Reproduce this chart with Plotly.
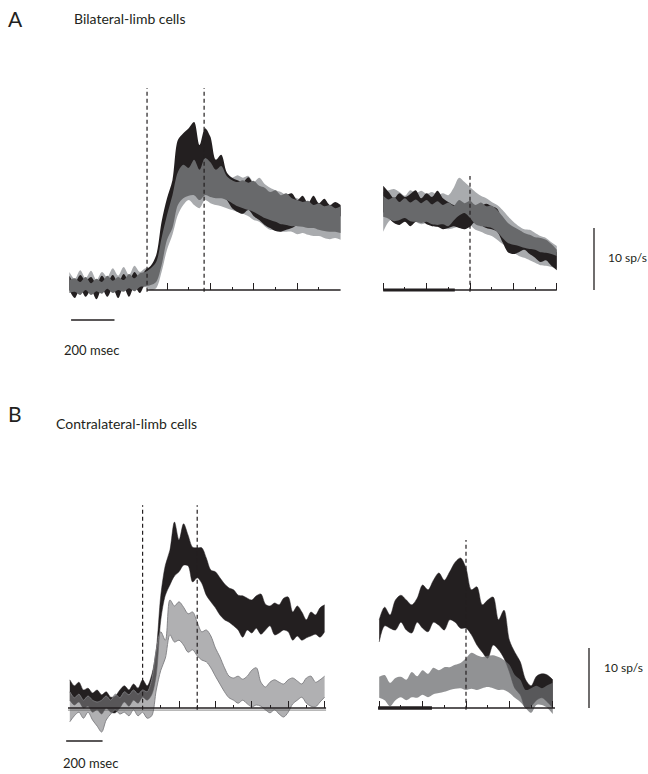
import plotly.graph_objects as go

W, H = 648, 774

# ---------------- DATA (firing rate, sp/s; time, ms) ----------------
# Panel A, left (aligned on first event), three conditions
A_L_T = list(range(-450, 801, 25))
A_L_LG_HI = [12.9,11.8,13.2,11.9,13.1,11.6,12.9,12.1,13.5,12.3,13.7,12.4,13.9,12.9,13.5,13.5,14.0,17.3,21.0,23.7,
             26.9,28.5,28.5,29.7,28.5,29.7,29.4,28.5,29.0,28.4,28.1,28.5,28.1,28.4,27.4,28.1,27.1,26.5,26.1,25.8,
             25.3,25.2,24.8,24.5,24.2,24.5,23.9,24.0,23.5,23.7,23.2]
A_L_LG_LO = [10.0,9.7,10.5,9.5,10.3,9.5,10.3,9.7,10.6,9.8,10.8,9.8,11.0,10.2,10.5,10.0,10.3,12.9,16.5,18.9,
             22.1,23.7,24.5,23.7,23.2,24.5,24.0,23.7,23.5,23.2,22.9,22.6,22.3,21.9,21.3,21.0,20.3,19.7,19.7,19.4,
             19.4,19.4,19.0,19.2,18.9,18.7,18.7,18.4,18.2,18.4,18.1]
A_L_BK_HI = [12.3,11.1,12.4,11.5,12.1,11.0,12.3,11.3,12.4,11.1,12.6,11.5,12.9,11.9,13.2,13.9,15.6,21.0,24.8,27.7,
             34.2,35.3,36.1,37.1,33.4,36.1,34.7,31.0,31.8,29.0,28.1,27.7,27.4,28.2,26.9,25.8,25.0,24.5,24.0,24.8,
             25.3,25.6,24.5,25.2,24.0,25.2,24.0,24.7,23.7,24.2,23.7]
A_L_BK_LO = [10.0,8.7,10.2,8.9,10.0,8.5,10.2,8.9,10.3,8.7,10.5,8.9,10.6,9.5,11.0,11.3,11.9,16.5,21.0,23.2,
             26.9,27.4,28.1,28.1,27.7,27.4,26.9,26.1,25.3,24.5,23.2,22.6,22.3,22.9,21.9,21.3,20.5,20.0,19.5,19.4,
             19.7,20.0,20.5,21.0,20.6,21.0,21.3,21.6,21.3,21.6,21.9]
A_L_DG_HI = [11.6,11.9,11.3,12.1,11.1,11.8,11.3,12.3,11.5,12.1,11.6,12.6,11.9,12.7,12.9,13.5,14.5,18.4,22.1,25.3,
             29.0,30.2,29.7,31.0,29.4,31.3,30.6,29.4,30.0,28.4,27.7,27.4,27.7,27.3,27.6,26.8,26.5,25.8,26.1,25.3,
             25.6,24.8,24.5,24.2,24.4,23.7,24.0,23.5,23.7,23.2,23.5]
A_L_DG_LO = [9.5,9.7,9.2,10.0,9.2,9.8,9.4,10.2,9.5,10.0,9.7,10.3,9.8,10.5,10.6,10.8,11.3,14.0,18.1,20.0,
             23.7,24.8,25.2,25.3,24.5,25.3,25.0,24.8,24.8,24.5,24.0,23.5,23.2,22.9,22.6,22.1,21.6,21.3,21.0,20.6,
             20.5,20.3,20.3,20.2,20.0,20.0,19.7,19.5,19.4,19.4,19.2]

# Panel A, right (aligned on second event)
A_R_T = list(range(-400, 401, 25))
A_R_LG_HI = [25.8,26.1,26.3,25.8,25.2,26.1,25.6,26.0,25.5,25.8,25.3,25.6,25.3,26.5,28.1,27.4,26.6,25.8,25.2,24.8,
             24.2,23.7,22.9,21.9,21.0,20.3,19.8,19.7,19.2,18.7,18.4,17.7,17.1]
A_R_LG_LO = [19.4,21.0,21.6,21.8,21.5,21.3,21.0,20.6,20.8,20.5,20.3,20.0,19.8,20.0,20.3,20.6,20.5,19.7,19.4,19.0,
             18.7,18.1,17.4,16.8,16.1,15.5,15.2,14.8,14.4,14.0,13.9,13.7,13.5]
A_R_BK_HI = [26.8,25.8,24.8,25.6,25.0,25.5,26.1,24.8,25.6,25.0,26.0,24.8,24.2,23.7,23.5,23.4,23.7,23.2,23.5,23.9,
             23.5,23.1,21.0,19.4,18.1,18.4,17.7,18.1,17.4,17.1,17.6,16.8,16.1]
A_R_BK_LO = [22.6,21.6,20.8,20.5,21.0,20.3,21.0,21.3,20.6,20.3,20.2,19.8,20.0,20.3,20.0,19.8,20.2,21.0,20.5,20.0,
             19.8,19.4,17.7,16.1,15.8,16.1,16.5,15.8,15.2,14.5,14.8,13.9,13.2]
A_R_DG_HI = [25.2,24.6,25.0,24.2,24.8,24.1,24.6,24.0,24.5,23.8,24.3,23.7,24.1,23.6,24.5,24.0,24.4,23.7,24.1,23.5,
             23.6,22.9,21.9,20.8,20.2,19.7,19.2,18.9,18.5,18.4,18.1,17.4,16.5]
A_R_DG_LO = [21.8,21.5,21.1,21.3,21.6,21.1,21.0,20.8,21.0,20.6,20.5,20.6,20.3,21.2,22.0,22.4,21.6,20.6,20.3,20.2,
             20.0,19.4,18.4,17.6,17.3,17.1,16.8,16.6,16.5,16.1,16.0,15.8,15.5]

# Panel B, left, two conditions
B_L_T = list(range(-600, 801, 25))
B_L_BK_HI = [14.7,13.7,14.3,13.0,13.3,12.5,13.0,12.2,12.7,11.8,12.0,13.0,13.7,13.0,14.0,13.3,14.7,13.7,15.5,19.7,
             28.8,33.8,36.3,41.0,38.0,40.7,38.8,36.8,36.7,36.7,35.0,33.0,32.7,31.7,30.7,30.0,29.7,28.8,28.7,28.3,
             28.0,28.7,29.0,27.3,27.0,27.5,27.2,28.3,28.5,26.0,27.0,26.0,24.7,26.0,25.5,26.7,27.2]
B_L_BK_LO = [11.3,10.5,11.0,10.0,10.3,9.3,9.7,9.0,10.0,9.3,9.2,10.0,11.0,10.3,11.3,10.8,11.8,11.3,12.2,15.5,
             24.7,28.8,30.5,32.0,32.7,33.8,33.7,31.0,31.7,30.8,28.8,27.7,26.7,25.5,24.7,24.3,23.7,23.0,21.8,23.0,
             22.5,23.3,22.3,23.0,23.7,22.2,22.5,23.0,22.7,21.3,22.0,21.3,21.7,22.0,22.3,21.8,22.7]
B_L_LG_HI = [12.7,11.7,12.3,11.3,12.0,11.3,11.0,11.3,12.0,11.3,12.3,11.7,12.7,12.2,13.0,12.3,13.0,12.7,14.7,19.7,
             22.7,21.3,28.0,27.0,27.7,26.8,25.7,26.0,24.3,22.7,23.0,22.0,20.0,18.5,16.7,15.3,15.0,15.3,14.8,15.3,
             16.3,16.7,14.3,13.5,14.3,14.7,14.3,14.0,14.7,15.0,14.5,14.0,15.0,15.3,14.3,14.7,15.3]
B_L_LG_LO = [7.7,8.7,9.3,8.3,9.3,8.0,7.0,6.0,8.0,9.0,9.7,9.0,9.3,8.7,9.7,8.7,9.3,8.3,8.7,13.0,
             16.3,18.3,22.2,21.0,21.3,20.5,19.3,19.7,18.7,18.0,17.7,16.7,15.3,14.0,12.7,11.7,11.3,10.8,11.3,10.7,
             10.2,10.5,10.3,9.7,9.2,9.7,9.0,8.5,9.3,10.7,11.3,11.8,10.8,10.3,10.2,11.0,11.8]

# Panel B, right
B_R_T = list(range(-400, 401, 25))
B_R_BK_HI = [24.7,26.8,25.5,28.0,28.8,28.0,27.2,28.3,30.5,29.7,31.3,32.5,31.3,32.7,34.3,35.0,33.3,29.7,30.2,27.2,
             28.0,28.5,24.7,26.3,21.3,19.3,17.7,14.7,13.7,15.3,15.7,15.5,14.7]
B_R_BK_LO = [21.0,23.7,23.3,23.0,24.3,23.0,22.5,24.3,23.3,22.7,24.3,23.8,23.0,24.7,24.3,23.3,23.3,22.2,20.5,19.3,
             18.3,20.5,19.7,18.3,16.0,13.3,12.2,10.0,10.3,11.3,11.7,11.0,10.0]
B_R_LG_HI = [15.2,15.5,14.2,15.0,15.2,14.7,16.0,15.3,16.3,15.7,16.7,16.3,16.8,16.8,17.2,17.5,18.3,19.2,18.8,18.5,
             18.7,18.8,18.5,18.0,17.2,15.5,14.7,13.0,13.3,13.7,13.3,13.8,14.2]
B_R_LG_LO = [11.7,11.3,10.3,11.3,11.8,11.3,11.8,11.7,12.2,11.8,12.3,12.5,12.7,13.0,13.2,13.3,13.0,13.2,13.0,13.3,
             13.5,13.3,13.0,13.0,12.5,11.7,11.0,10.0,9.2,10.5,10.5,10.0,9.0]

# Event markers (ms) and axis ticks (ms)
A_L_EVENTS = [-92, 171]
A_R_EVENTS = [0]
B_L_EVENTS = [-200, 100]
B_R_EVENTS = [0]
A_L_MAJOR = [0, 200, 400, 600, 800]
A_L_MINOR = [100, 300, 500, 700]
A_R_MAJOR = [-400, -200, 0, 200, 400]
A_R_MINOR = [-300, -100, 100, 300]
B_L_MAJOR = [0, 200, 400, 600, 800]
B_L_MINOR = [-100, 100, 300, 500, 700]
B_R_MAJOR = [-400, -200, 0, 200, 400]
B_R_MINOR = [-300, -100, 100, 300]
BASE = 10.0          # rate at the baseline axis (sp/s)
SCALE_RATE = 10      # vertical scale bar (sp/s)
SCALE_TIME = 200     # horizontal scale bar (ms)

# ---------------- STYLE / GEOMETRY ----------------
INK = "#231f20"
FONT = "Lato, Open Sans, sans-serif"

# panel: (origin_px, px_per_ms, px_left, px_right, py_axis, px_per_unit, py_top, py_bot)
GEOM = {
    1: (167, 0.217, 68, 341, 290, 6.2, 75, 326),
    2: (470, 0.217, 382, 558, 290, 6.2, 75, 326),
    3: (179, 0.182, 64, 327, 708, 6.0, 480, 748),
    4: (466, 0.217, 377, 556, 708, 6.0, 480, 748),
}

fig = go.Figure()


def band(k, t, lo, hi, color, edge=None, ew=0):
    ax = dict(xaxis="x" if k == 1 else f"x{k}", yaxis="y" if k == 1 else f"y{k}")
    lc = edge if edge else color
    fig.add_trace(go.Scatter(x=t, y=lo, mode="lines", showlegend=False, hoverinfo="skip",
                             line=dict(width=ew, color=lc, shape="spline", smoothing=0.9), **ax))
    fig.add_trace(go.Scatter(x=t, y=hi, mode="lines", fill="tonexty", fillcolor=color,
                             showlegend=False, hoverinfo="skip",
                             line=dict(width=ew, color=lc, shape="spline", smoothing=0.9), **ax))


A_LG, A_BK, A_DG = "#a9abae", INK, "#68696b"
band(1, A_L_T, A_L_LG_LO, A_L_LG_HI, A_LG)
band(1, A_L_T, A_L_BK_LO, A_L_BK_HI, A_BK)
band(1, A_L_T, A_L_DG_LO, A_L_DG_HI, A_DG)
band(2, A_R_T, A_R_LG_LO, A_R_LG_HI, A_LG)
band(2, A_R_T, A_R_BK_LO, A_R_BK_HI, A_BK)
band(2, A_R_T, A_R_DG_LO, A_R_DG_HI, A_DG)

band(3, B_L_T, B_L_BK_LO, B_L_BK_HI, INK, ew=0.5)
band(3, B_L_T, B_L_LG_LO, B_L_LG_HI, "rgba(123,124,127,0.6)", edge="#7d7d80", ew=0.9)
band(4, B_R_T, B_R_BK_LO, B_R_BK_HI, INK, ew=0.5)
band(4, B_R_T, B_R_LG_LO, B_R_LG_HI, "rgba(107,108,111,0.74)")

ticks = {1: (A_L_MAJOR, A_L_MINOR), 2: (A_R_MAJOR, A_R_MINOR),
         3: (B_L_MAJOR, B_L_MINOR), 4: (B_R_MAJOR, B_R_MINOR)}
layout_axes = {}
for k, (org, s, pl, pr, pya, su, pyt, pyb) in GEOM.items():
    xn = "xaxis" if k == 1 else f"xaxis{k}"
    yn = "yaxis" if k == 1 else f"yaxis{k}"
    major, minor = ticks[k]
    layout_axes[xn] = dict(
        domain=[pl / W, pr / W], range=[(pl - org) / s, (pr - org) / s],
        anchor="free", position=1 - pya / H, showline=False, showgrid=False, zeroline=False,
        showticklabels=False, ticks="inside", ticklen=7, tickwidth=1.2, tickcolor=INK,
        tickmode="array", tickvals=major,
        minor=dict(tickmode="array", tickvals=minor, ticks="inside", ticklen=3,
                   tickwidth=1.2, tickcolor=INK, showgrid=False),
    )
    layout_axes[yn] = dict(
        domain=[1 - pyb / H, 1 - pyt / H],
        range=[BASE - (pyb - pya) / su, BASE + (pya - pyt) / su],
        visible=False, anchor="x" if k == 1 else f"x{k}",
    )

shapes = []


def ref(k):
    return ("x" if k == 1 else f"x{k}", "y" if k == 1 else f"y{k}")


def hline(k, x0, x1, y, w, color=INK):
    xr, yr = ref(k)
    shapes.append(dict(type="line", xref=xr, yref=yr, x0=x0, x1=x1, y0=y, y1=y,
                       line=dict(color=color, width=w)))


def vdash(k, x, ytop):
    xr, yr = ref(k)
    shapes.append(dict(type="line", xref=xr, yref=yr, x0=x, x1=x, y0=BASE - 0.3, y1=ytop,
                       line=dict(color=INK, width=1.2, dash="4px,3px")))


# baselines
hline(1, A_L_EVENTS[0], A_L_MAJOR[-1], BASE, 1.6)
hline(2, A_R_MAJOR[0], A_R_MAJOR[-1], BASE, 1.6)
hline(2, A_R_MAJOR[0], -70, BASE, 3.0)
hline(3, -610, 808, BASE, 1.6)
hline(3, -610, 808, BASE - 0.35, 0.7, "#555555")
hline(4, -405, 410, BASE, 1.6)
hline(4, -405, -157, BASE, 3.5)

# event lines
for e in A_L_EVENTS:
    vdash(1, e, 42.6)
for e in A_R_EVENTS:
    vdash(2, e, 28.4)
for e in B_L_EVENTS:
    vdash(3, e, 43.8)
for e in B_R_EVENTS:
    vdash(4, e, 38.0)

# scale bars
shapes.append(dict(type="line", xref="paper", yref="y2", x0=594 / W, x1=594 / W,
                   y0=BASE, y1=BASE + SCALE_RATE, line=dict(color=INK, width=1.3)))
shapes.append(dict(type="line", xref="paper", yref="y4", x0=589 / W, x1=589 / W,
                   y0=BASE, y1=BASE + SCALE_RATE, line=dict(color=INK, width=1.3)))
shapes.append(dict(type="line", xref="x", yref="paper", x0=-442, x1=-442 + SCALE_TIME,
                   y0=1 - 320 / H, y1=1 - 320 / H, line=dict(color=INK, width=1.3)))
shapes.append(dict(type="line", xref="x3", yref="paper", x0=-620, x1=-620 + SCALE_TIME,
                   y0=1 - 741 / H, y1=1 - 741 / H, line=dict(color=INK, width=1.3)))


def text(s, px, py, size):
    return dict(text=s, xref="paper", yref="paper", x=px / W, y=1 - py / H,
                xanchor="left", yanchor="middle", showarrow=False,
                font=dict(family=FONT, size=size, color=INK))


annotations = [
    text("A", 6, 18, 21),
    text("Bilateral-limb cells", 72, 19, 14),
    text("B", 6, 414, 21),
    text("Contralateral-limb cells", 54, 423, 14),
    text(f"{SCALE_RATE} sp/s", 606, 258, 12),
    text(f"{SCALE_RATE} sp/s", 602, 667, 12),
    text(f"{SCALE_TIME} msec", 62, 350, 13),
    text(f"{SCALE_TIME} msec", 61, 763, 13),
]

fig.update_layout(
    width=W, height=H, margin=dict(l=0, r=0, t=0, b=0),
    paper_bgcolor="white", plot_bgcolor="rgba(0,0,0,0)",
    showlegend=False, shapes=shapes, annotations=annotations,
    **layout_axes,
)

fig.write_html("out.html")
